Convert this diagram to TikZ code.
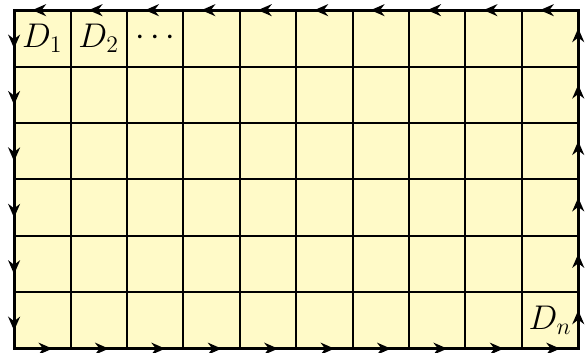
\documentclass[tikz,border=0pt]{standalone}
\usetikzlibrary{arrows.meta}
\definecolor{cellfill}{RGB}{255,250,200}
\tikzset{
  border/.style={line width=1.6pt},
  edgearrow/.style={line width=1.6pt,-{Stealth[length=7pt,width=6pt]}}
}
\begin{document}
\begin{tikzpicture}
  \useasboundingbox (-0.25,-0.07) rectangle (10.12,6.18);
  % cells
  \fill[cellfill] (0,0) rectangle (10,6);
  \draw[line width=1pt] (0,0) grid (10,6);
  \draw[border] (0,0) rectangle (10,6);
  % boundary arrows, counterclockwise
  \foreach \i in {0,...,9} {
    \draw[edgearrow] (\i,0) -- ({\i+0.68},0);
    \draw[edgearrow] ({10-\i},6) -- ({9.32-\i},6);
  }
  \foreach \j in {0,...,5} {
    \draw[edgearrow] (10,\j) -- (10,{\j+0.68});
    \draw[edgearrow] (0,{6-\j}) -- (0,{5.32-\j});
  }
  % labels
  \node[font=\LARGE] (d1) at (0.5,5.5) {$D_1$};
  \node[font=\LARGE] (d2) at (1.5,5.5) {$D_2$};
  \node[font=\LARGE] (dots) at (2.5,5.5) {$\cdots$};
  \node[font=\LARGE] (dn) at (9.5,0.5) {$D_n$};
\end{tikzpicture}
\end{document}
